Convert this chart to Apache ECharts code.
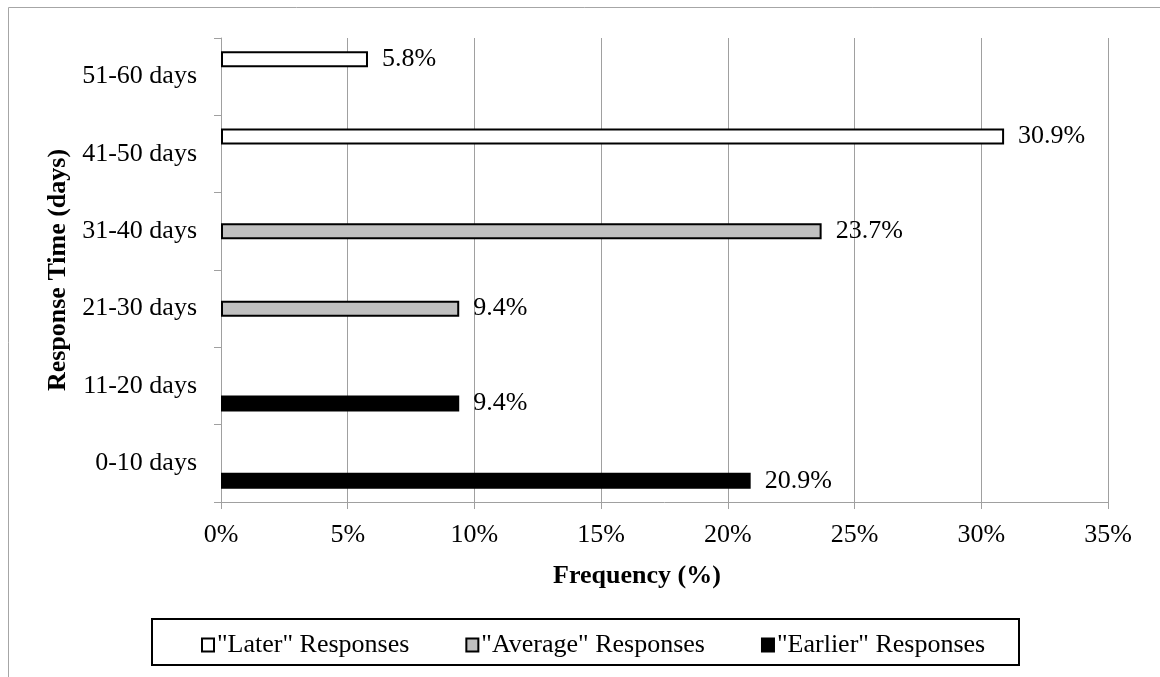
<!DOCTYPE html>
<html>
<head>
<meta charset="utf-8">
<script src="https://cdn.jsdelivr.net/npm/echarts@6/dist/echarts.min.js"></script>
<style>
  html, body { margin: 0; padding: 0; background: #fff; }
  #chart { width: 1160px; height: 677px; }
</style>
</head>
<body>
<div id="chart"></div>
<script>
// Response-time bins, bottom to top on the category axis
const categories = ['0-10 days', '11-20 days', '21-30 days', '31-40 days', '41-50 days', '51-60 days'];

// Share of responses (%) per bin, split into three response groups
const laterValues   = [null, null, null, null, 30.9, 5.8];
const averageValues = [null, null, 9.4, 23.7, null, null];
const earlierValues = [20.9, 9.4, null, null, null, null];

const seriesNames = ['"Later" Responses', '"Average" Responses', '"Earlier" Responses'];
const xTicks = [0, 5, 10, 15, 20, 25, 30, 35];

const FONT = 'Liberation Serif, Times New Roman, serif';
const FS = 26;
const GRID_GRAY = '#a0a0a0';

function makeSeries(name, values, fill) {
  return {
    name: name,
    type: 'bar',
    data: values,
    barWidth: 16,
    barGap: '9%',
    itemStyle: { color: fill, borderColor: '#000', borderWidth: 2 },
    label: {
      show: true,
      position: 'right',
      distance: 14,
      fontFamily: FONT,
      fontSize: FS,
      color: '#000',
      formatter: p => p.value == null ? '' : p.value.toFixed(1) + '%'
    }
  };
}

const chart = echarts.init(document.getElementById('chart'), null, { renderer: 'canvas' });
chart.setOption({
  animation: false,
  backgroundColor: '#fff',
  textStyle: { fontFamily: FONT },
  grid: { left: 221, right: 52, top: 38, bottom: 175 },
  xAxis: {
    type: 'value',
    min: xTicks[0],
    max: xTicks[xTicks.length - 1],
    interval: 5,
    name: 'Frequency (%)',
    nameLocation: 'middle',
    nameGap: 61,
    // title sits centred on the whole chart area rather than the plot
    nameTextStyle: { fontFamily: FONT, fontSize: FS, fontWeight: 'bold', color: '#000', padding: [0, 55, 0, 0] },
    axisLine: { show: true, lineStyle: { color: GRID_GRAY, width: 1 } },
    axisTick: { show: true, length: 7, lineStyle: { color: GRID_GRAY } },
    axisLabel: { margin: 20, fontFamily: FONT, fontSize: FS, color: '#000', formatter: v => v + '%' },
    splitLine: { show: true, lineStyle: { color: GRID_GRAY, width: 1 } }
  },
  yAxis: {
    type: 'category',
    data: categories,
    name: 'Response Time (days)',
    nameLocation: 'middle',
    nameGap: 147,
    nameTextStyle: { fontFamily: FONT, fontSize: FS, fontWeight: 'bold', color: '#000' },
    axisLine: { show: true, lineStyle: { color: GRID_GRAY, width: 1 } },
    axisTick: { show: true, length: 7, lineStyle: { color: GRID_GRAY } },
    axisLabel: { margin: 24, fontFamily: FONT, fontSize: FS, color: '#000' },
    splitLine: { show: false }
  },
  legend: {
    left: 196,
    top: 627,
    itemGap: 56,
    itemWidth: 12,
    itemHeight: 13,
    icon: 'rect',
    textStyle: { fontFamily: FONT, fontSize: FS, color: '#000', padding: [0, 0, 0, -2] },
    data: seriesNames.map(n => ({ name: n, itemStyle: { borderColor: '#000', borderWidth: 2 } }))
  },
  graphic: [
    { type: 'rect', silent: true, z: -1,
      shape: { x: 8.5, y: 7.5, width: 1200, height: 700 },
      style: { fill: 'none', stroke: '#a6a6a6', lineWidth: 1 } },
    { type: 'rect', silent: true,
      shape: { x: 152, y: 619, width: 867, height: 46 },
      style: { fill: 'none', stroke: '#000', lineWidth: 2 } }
  ],
  series: [
    makeSeries(seriesNames[0], laterValues, '#ffffff'),
    makeSeries(seriesNames[1], averageValues, '#c0c0c0'),
    makeSeries(seriesNames[2], earlierValues, '#000000')
  ]
});
</script>
</body>
</html>
